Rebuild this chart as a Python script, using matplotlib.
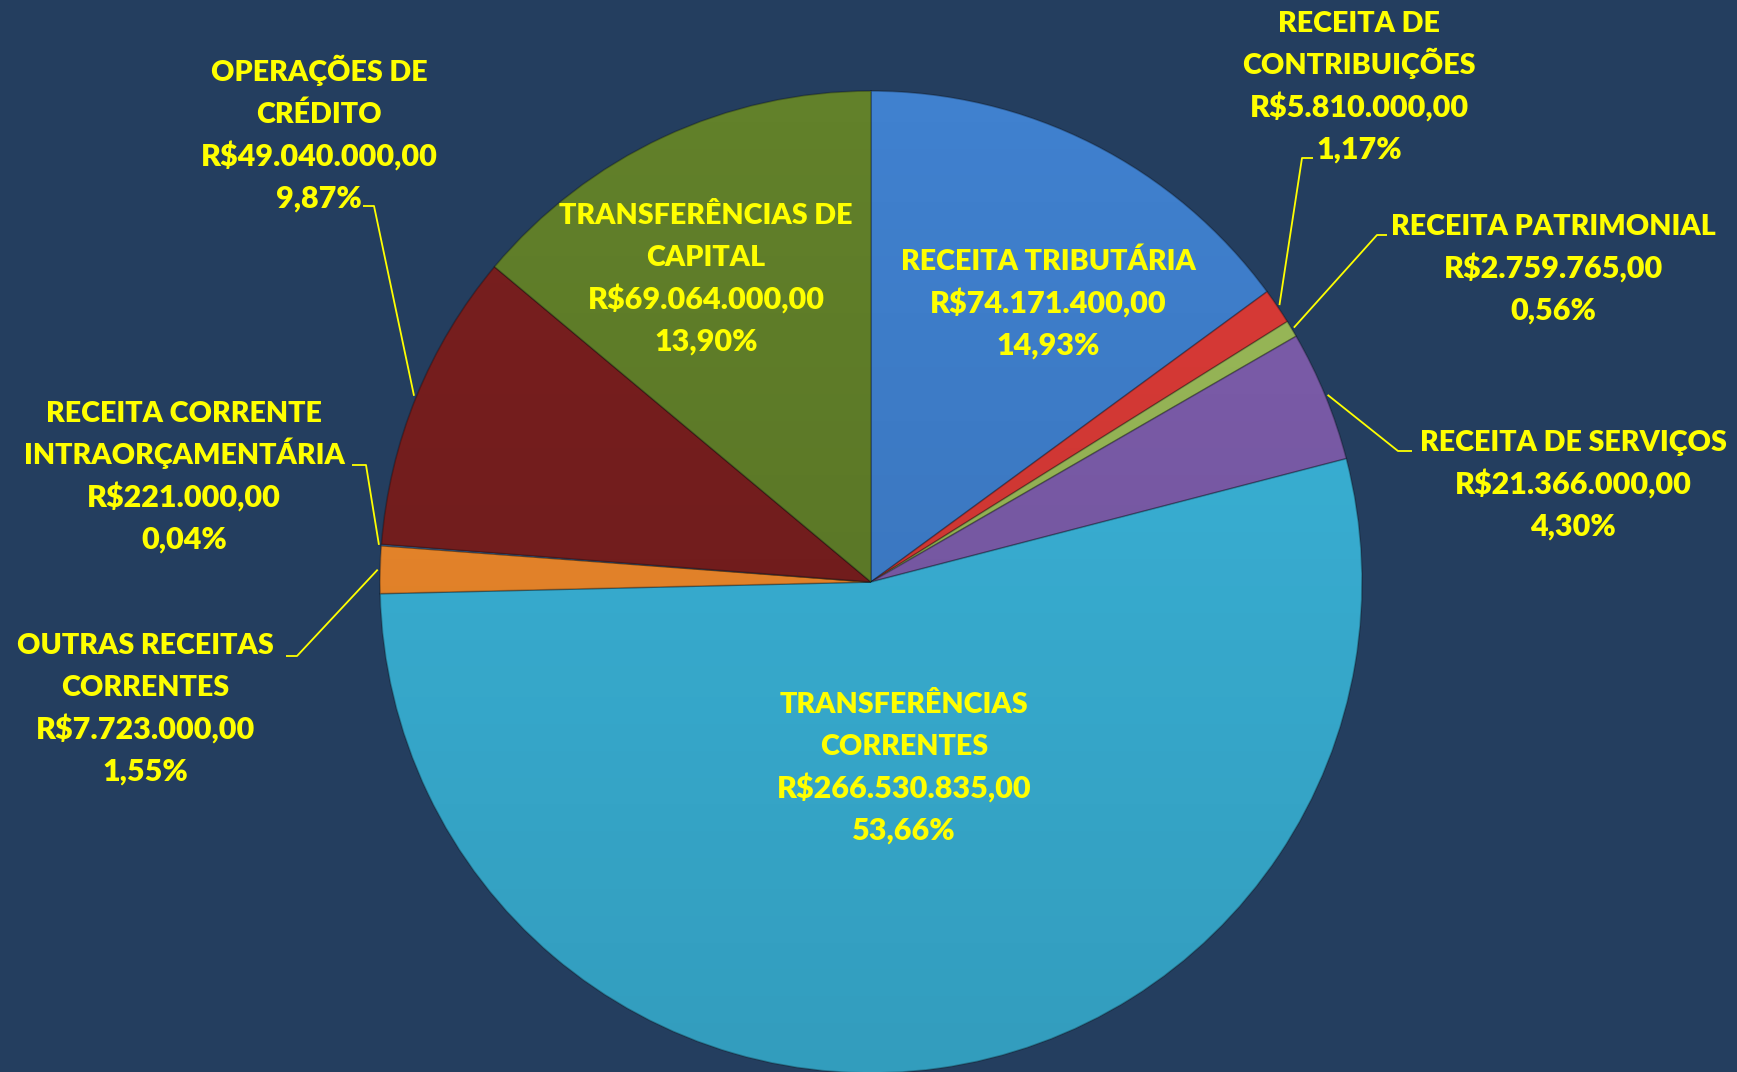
import numpy as np
import matplotlib
matplotlib.use("Agg")
import matplotlib.pyplot as plt
from matplotlib.patches import Circle

# ---------------- data ----------------
categories = [
    "RECEITA TRIBUTÁRIA",
    "RECEITA DE\nCONTRIBUIÇÕES",
    "RECEITA PATRIMONIAL",
    "RECEITA DE SERVIÇOS",
    "TRANSFERÊNCIAS\nCORRENTES",
    "OUTRAS RECEITAS\nCORRENTES",
    "RECEITA CORRENTE\nINTRAORÇAMENTÁRIA",
    "OPERAÇÕES DE\nCRÉDITO",
    "TRANSFERÊNCIAS DE\nCAPITAL",
]
values = [74171400.00, 5810000.00, 2759765.00, 21366000.00, 266530835.00,
          7723000.00, 221000.00, 49040000.00, 69064000.00]
colors = ["#4081CF", "#DC3B37", "#9BBB59", "#7E5EAD", "#3BB6DC",
          "#F28B2C", "#4F81BD", "#7A1F1F", "#62812A"]

# ---------------- layout (pixels, top-left origin) ----------------
W, H = 1737, 1072
CX, CY, R = 871, 582, 491
LS = 42.3          # line spacing in px
FS = 20.6          # font size pt (name lines)
FS_NUM = 22.0      # font size pt (value lines)
BG = "#243E5F"
YEL = "#FFFF00"

# label first-line centre positions
label_pos = [
    (1048, 260), (1359, 22), (1553, 225), (1573, 441), (904, 703),
    (145, 644), (184, 412), (319, 71), (706, 214),
]
# leader elbow points (None = label inside slice): (elbow, end)
leaders = [
    None,
    ((1302, 158), (1313, 158)),
    ((1377, 235), (1387, 235)),
    ((1398, 451), (1412, 451)),
    None,
    ((297, 656), (286, 656)),
    ((366, 465), (352, 465)),
    ((374, 206), (363, 206)),
    None,
]


def fmt_brl(v):
    s = f"{v:,.2f}"
    s = s.replace(",", "X").replace(".", ",").replace("X", ".")
    return "R$" + s


def fy(y):
    return H - y


plt.rcParams["font.family"] = ["Lato", "DejaVu Sans"]

fig = plt.figure(figsize=(W / 100, H / 100), dpi=100, facecolor=BG)
ax = fig.add_axes([0, 0, 1, 1])
ax.set_facecolor(BG)

wedges, _ = ax.pie(values, colors=colors, startangle=90, counterclock=False,
                   center=(CX, fy(CY)), radius=R,
                   wedgeprops=dict(edgecolor=(0, 0, 0, 0.25), linewidth=1.2))

# subtle vertical shading over the pie
grad = np.linspace(0, 1, 256)
rgba = np.zeros((256, 1, 4))
rgba[:, 0, 3] = 0.14 * grad
im = ax.imshow(rgba, extent=(CX - R, CX + R, fy(CY) - R, fy(CY) + R),
               origin="upper", aspect="auto", zorder=3)
im.set_clip_path(Circle((CX, fy(CY)), R, transform=ax.transData))

total = sum(values)
for i, (cat, v) in enumerate(zip(categories, values)):
    pct = v / total * 100
    names = cat.split("\n")
    lines = names + [fmt_brl(v), f"{pct:.2f}%".replace(".", ",")]
    x0, y0 = label_pos[i]
    for j, ln in enumerate(lines):
        size = FS if j < len(names) else FS_NUM
        ax.text(x0, fy(y0 + j * LS + 10), ln, ha="center", va="baseline",
                color=YEL, fontsize=size, fontweight="heavy", zorder=5)
    if leaders[i] is not None:
        w = wedges[i]
        mid = np.deg2rad((w.theta1 + w.theta2) / 2)
        ax0 = CX + R * 1.005 * np.cos(mid)
        ay0 = fy(CY) + R * 1.005 * np.sin(mid)
        (ex, ey), (tx, ty) = leaders[i]
        ax.plot([ax0, ex, tx], [ay0, fy(ey), fy(ty)], color=YEL, lw=1.3,
                zorder=4, solid_capstyle="butt")

ax.set_xlim(0, W)
ax.set_ylim(0, H)
ax.set_aspect("auto")
ax.axis("off")
fig.savefig("out.png", dpi=100, facecolor=BG)
